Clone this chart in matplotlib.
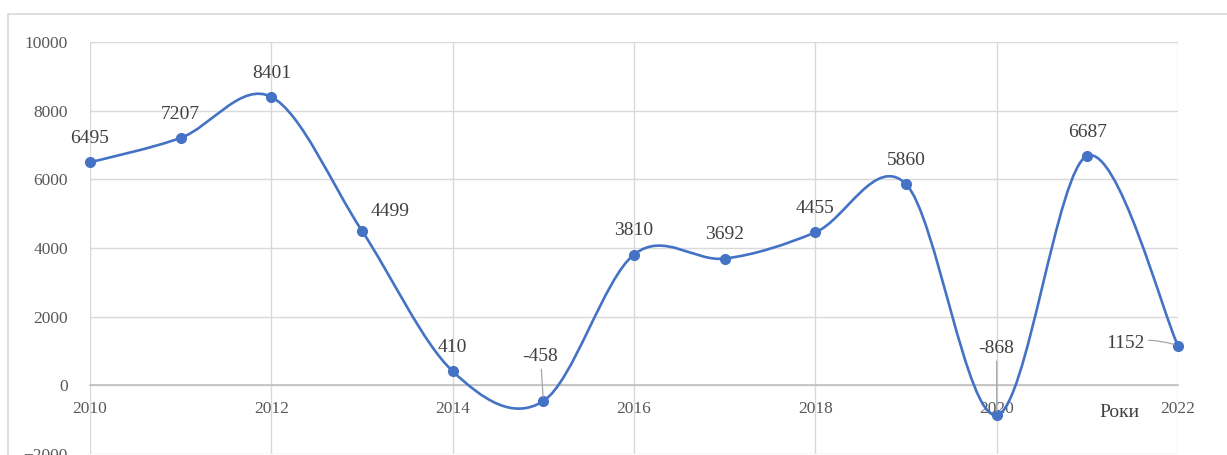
import numpy as np
import matplotlib.pyplot as plt
from matplotlib.path import Path
from matplotlib.patches import PathPatch, Rectangle

# data
YEARS = [2010, 2011, 2012, 2013, 2014, 2015, 2016, 2017, 2018, 2019, 2020, 2021, 2022]
VALUES = [6495, 7207, 8401, 4499, 410, -458, 3810, 3692, 4455, 5860, -868, 6687, 1152]
X_TICKS = [2010, 2012, 2014, 2016, 2018, 2020, 2022]
Y_TICKS = [-2000, 0, 2000, 4000, 6000, 8000, 10000]

BLUE = "#4472C4"
GRID = "#D9D9D9"
TEXT = "#404040"

plt.rcParams["font.family"] = ["Liberation Serif", "DejaVu Serif"]


def smooth_path(xs, ys):
    """ Excel-like smoothed line as a chain of cubic Bezier segments """
    pts = np.column_stack([xs, ys]).astype(float)
    n = len(pts)
    verts = [pts[0]]
    codes = [Path.MOVETO]
    for i in range(n - 1):
        p_prev = pts[max(i - 1, 0)]
        p0 = pts[i]
        p1 = pts[i + 1]
        p_next = pts[min(i + 2, n - 1)]
        c1 = p0 + (p1 - p_prev) / 6.0
        c2 = p1 - (p_next - p0) / 6.0
        verts += [c1, c2, p1]
        codes += [Path.CURVE4] * 3
    return Path(verts, codes)


fig = plt.figure(figsize=(12.27, 4.55), dpi=100)
W, H = 1227.0, 455.0

# outer chart border
fig.patches.append(Rectangle((8 / W, -0.1), 1.2, 1 - 14 / H + 0.1,
                             transform=fig.transFigure, fill=False,
                             edgecolor=GRID, linewidth=1.2))

ax = fig.add_axes([90 / W, 1 - 454 / H, (1178 - 90) / W, (454 - 42) / H])
ax.set_xlim(2010, 2022)
ax.set_ylim(-2000, 10000)
ax.set_xticks(X_TICKS)
ax.set_yticks(Y_TICKS)
ax.grid(True, color=GRID, linewidth=1.0)
ax.set_axisbelow(True)

for side in ["top", "right", "left"]:
    ax.spines[side].set_visible(False)
ax.spines["bottom"].set_position(("data", 0))
ax.spines["bottom"].set_color("#BFBFBF")
ax.spines["bottom"].set_linewidth(1.2)

ax.tick_params(axis="x", length=0, pad=11, labelsize=12.5, labelcolor="#595959")
ax.tick_params(axis="y", length=0, pad=16, labelsize=12.5, labelcolor="#595959")

# smoothed line plus markers
patch = PathPatch(smooth_path(YEARS, VALUES), facecolor="none",
                  edgecolor=BLUE, linewidth=1.9, zorder=3)
ax.add_patch(patch)
ax.plot(YEARS, VALUES, linestyle="none", marker="o", markersize=7,
        color=BLUE, zorder=4, clip_on=False)

# data labels (offsets in points)
offsets = {
    2013: (20, 14),
    2015: (-2, 32),
    2020: (0, 48),
    2022: (-38, 2),
}
for x, v in zip(YEARS, VALUES):
    dx, dy = offsets.get(x, (0, 17))
    if x in (2015, 2020, 2022):
        ax.annotate(str(v), xy=(x, v), xytext=(dx, dy), textcoords="offset points",
                    ha="center", va="center", fontsize=14, color=TEXT,
                    arrowprops=dict(arrowstyle="-", color="#A6A6A6", lw=0.9,
                                    shrinkA=1, shrinkB=3,
                                    connectionstyle="arc3,rad=-0.15" if x == 2022 else "arc3"),
                    zorder=5)
    else:
        ax.annotate(str(v), xy=(x, v), xytext=(dx, dy), textcoords="offset points",
                    ha="center", va="center", fontsize=14, color=TEXT, zorder=5)

# axis title
ax.text(2021.35, -800, "Роки", ha="center", va="center", fontsize=14, color=TEXT)

fig.savefig("out.png", dpi=100)
